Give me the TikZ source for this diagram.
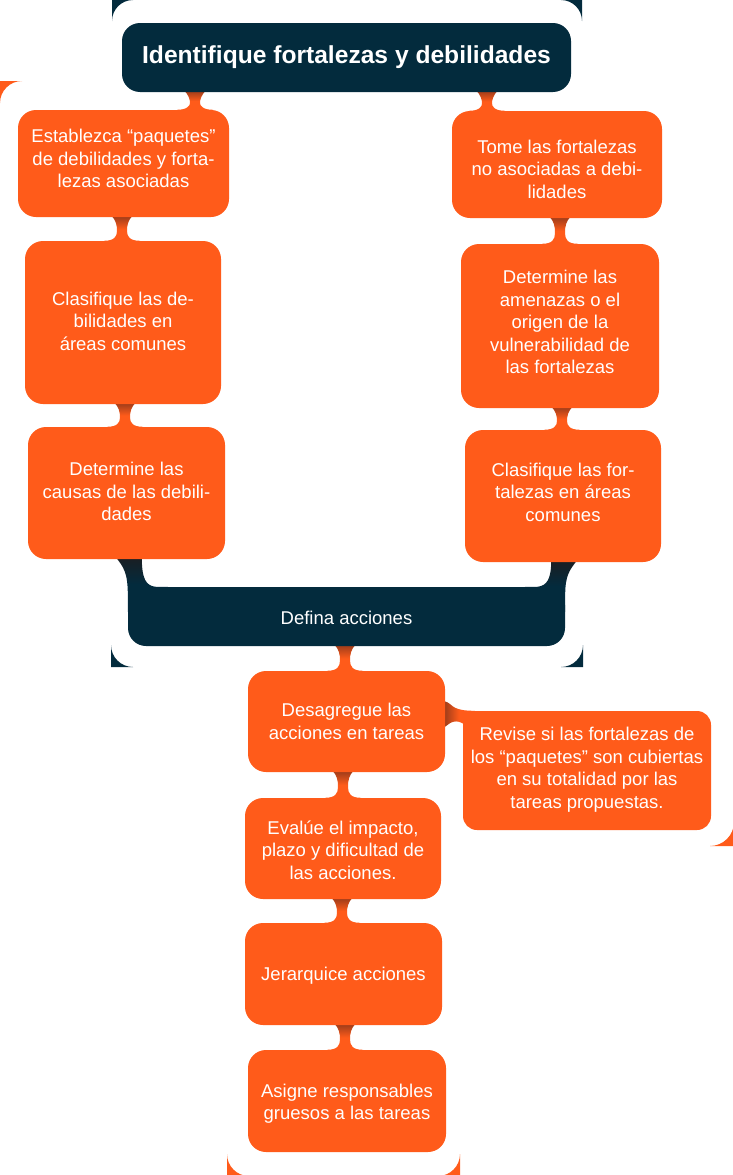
\documentclass[tikz,border=0pt]{standalone}
\usepackage{fontspec}
\setmainfont{Liberation Sans}
\usetikzlibrary{calc}
\definecolor{orng}{RGB}{255,91,26}
\definecolor{navy}{RGB}{3,43,61}
\definecolor{brwn}{RGB}{150,58,26}
\definecolor{dnavy}{RGB}{26,30,34}
\pgfdeclarelayer{bg}
\pgfsetlayers{bg,main}
\newcommand{\vneck}[5]{% from, to, x, top colour, body colour
  \path[top color=#4, bottom color=#5, middle color=#5] let \p1=(#1.south), \p2=(#2.north) in
   ({#3pt-11pt},{\y1+2pt}) .. controls ({#3pt-6pt},{\y1-3pt}) and ({#3pt-5pt},{\y1-8pt}) .. ({#3pt-5pt},{(\y1+\y2)/2-2pt})
   .. controls ({#3pt-5pt},{\y2+4pt}) and ({#3pt-8pt},{\y2}) .. ({#3pt-18pt},{\y2}) -- ({#3pt-18pt},{\y2-2pt})
   -- ({#3pt+18pt},{\y2-2pt}) -- ({#3pt+18pt},{\y2}) .. controls ({#3pt+8pt},{\y2}) and ({#3pt+5pt},{\y2+4pt}) .. ({#3pt+5pt},{(\y1+\y2)/2-2pt})
   .. controls ({#3pt+5pt},{\y1-8pt}) and ({#3pt+6pt},{\y1-3pt}) .. ({#3pt+11pt},{\y1+2pt}) -- cycle;}
\newcommand{\cpiece}[6]{% colour, x, y, sx, sy, r
  \fill[#1] (#2,#3) -- ({#2+#4*#6},#3) .. controls ({#2+#4*0.448*#6},#3) and (#2,{#3+#5*0.448*#6}) .. (#2,{#3+#5*#6}) -- cycle;}
\tikzset{
  obox/.style={fill=orng, rounded corners=18pt, inner sep=0pt},
  nbox/.style={fill=navy, rounded corners=18pt, inner sep=0pt},
  txt/.style={text=white, align=center, inner sep=0pt, font=\fontsize{18.5}{22.5}\selectfont}
}
\begin{document}
\begin{tikzpicture}[x=1pt,y=-1pt]
\useasboundingbox (0,0) rectangle (733,1175);
% frame corner fragments
\cpiece{navy}{112}{0}{1}{1}{21}
\cpiece{navy}{582}{0}{-1}{1}{21}
\cpiece{navy}{111}{667}{1}{-1}{22}
\cpiece{navy}{583}{667}{-1}{-1}{22}
\cpiece{orng}{0}{81}{1}{1}{22}
\cpiece{orng}{734}{846}{-1}{-1}{24}
\cpiece{orng}{227}{1176}{1}{-1}{22}
\cpiece{orng}{460}{1176}{-1}{-1}{22}
% boxes
\node[nbox, minimum width=449, minimum height=69] (title) at (346.5,57.5) {};
\node[obox, minimum width=211, minimum height=107] (b1) at (123.5,163.5) {};
\node[obox, minimum width=196, minimum height=163] (b2) at (123,322.5) {};
\node[obox, minimum width=197, minimum height=132] (b3) at (126.5,493) {};
\node[obox, minimum width=210, minimum height=107] (r1) at (557,164.5) {};
\node[obox, minimum width=198, minimum height=164] (r2) at (560,326) {};
\node[obox, minimum width=196, minimum height=132] (r3) at (563,496) {};
\node[nbox, minimum width=437, minimum height=59] (defina) at (346.5,616.5) {};
\node[obox, minimum width=197, minimum height=101] (d1) at (346.5,721.5) {};
\node[obox, minimum width=248, minimum height=119, rounded corners=14pt] (revise) at (587,770.5) {};
\node[obox, minimum width=196, minimum height=101] (d2) at (343,848.5) {};
\node[obox, minimum width=197, minimum height=102] (d3) at (343.5,974) {};
\node[obox, minimum width=198, minimum height=102] (d4) at (347,1101) {};
% texts
\node[txt, font=\bfseries\fontsize{24.6}{28}\selectfont] (titlet) at (title.center) {Identifique fortalezas y debilidades};
\node[txt] (b1t) at ([yshift=5pt]b1.center) {Establezca “paquetes”\\de debilidades y forta-\\lezas asociadas};
\node[txt] (b2t) at ([yshift=1.5pt]b2.center) {Clasifique las de-\\bilidades en\\áreas comunes};
\node[txt] (b3t) at ([yshift=1.5pt]b3.center) {Determine las\\causas de las debili-\\dades};
\node[txt] (r1t) at ([yshift=-4.5pt]r1.center) {Tome las fortalezas\\no asociadas a debi-\\lidades};
\node[txt] (r2t) at ([yshift=4pt]r2.center) {Determine las\\amenazas o el\\origen de la\\vulnerabilidad de\\las fortalezas};
\node[txt] (r3t) at ([yshift=4pt]r3.center) {Clasifique las for-\\talezas en áreas\\comunes};
\node[txt] (definat) at ([yshift=-1.5pt]defina.center) {Defina acciones};
\node[txt] (d1t) at (d1.center) {Desagregue las\\acciones en tareas};
\node[txt] (reviset) at ([yshift=1pt]revise.center) {Revise si las fortalezas de\\los “paquetes” son cubiertas\\en su totalidad por las\\tareas propuestas.};
\node[txt] (d2t) at ([yshift=-1.5pt]d2.center) {Evalúe el impacto,\\plazo y dificultad de\\las acciones.};
\node[txt] (d3t) at ([yshift=-2pt]d3.center) {Jerarquice acciones};
\node[txt] (d4t) at ([yshift=-2.5pt]d4.center) {Asigne responsables\\gruesos a las tareas};
% connectors
\begin{pgfonlayer}{bg}
\vneck{title}{b1}{195}{brwn}{orng}
\vneck{title}{r1}{487}{brwn}{orng}
\vneck{b1}{b2}{122}{brwn}{orng}
\vneck{b2}{b3}{125}{brwn}{orng}
\vneck{r1}{r2}{560}{brwn}{orng}
\vneck{r2}{r3}{562}{brwn}{orng}
\vneck{defina}{d1}{345}{brwn}{orng}
\vneck{d1}{d2}{343}{brwn}{orng}
\vneck{d2}{d3}{342}{brwn}{orng}
\vneck{d3}{d4}{345}{brwn}{orng}
\path[top color=dnavy, bottom color=navy, middle color=navy] let \p1=(b3.south), \p2=(defina.north west) in
 ({\x2-12pt},{\y1+2pt}) .. controls ({\x2-4pt},{\y1-8pt}) and ({\x2},{\y1-14pt}) .. ({\x2},{\y2-8pt})
 -- ({\x2},{\y2-25pt}) -- ({\x2+40pt},{\y2-25pt}) -- ({\x2+40pt},{\y2}) -- ({\x2+28pt},{\y2})
 .. controls ({\x2+18pt},{\y2+1pt}) and ({\x2+14pt},{\y2+8pt}) .. ({\x2+14pt},{\y1+2pt}) -- cycle;
\path[top color=dnavy, bottom color=navy, middle color=navy] let \p1=(r3.south), \p2=(defina.north east) in
 ({\x2+12pt},{\y1+2pt}) .. controls ({\x2+4pt},{\y1-8pt}) and ({\x2},{\y1-14pt}) .. ({\x2},{\y2-8pt})
 -- ({\x2},{\y2-25pt}) -- ({\x2-40pt},{\y2-25pt}) -- ({\x2-40pt},{\y2}) -- ({\x2-28pt},{\y2})
 .. controls ({\x2-18pt},{\y2+1pt}) and ({\x2-14pt},{\y2+8pt}) .. ({\x2-14pt},{\y1+2pt}) -- cycle;
\path[left color=brwn, right color=orng, middle color=orng] let \p1=(d1.east), \p2=(revise.north west) in
 ({\x1-2pt},{\y2+10pt}) .. controls ({\x1+4pt},{\y2+9pt}) and ({\x1+7pt},{\y2+4pt}) .. ({\x1+10pt},{\y2+3pt})
 .. controls ({\x2-4pt},{\y2+1.5pt}) and ({\x2},{\y2}) .. ({\x2+12pt},{\y2})
 -- ({\x2+12pt},{\y2-20pt}) -- ({\x2+2pt},{\y2-20pt}) -- ({\x2+2pt},{\y2-14pt})
 .. controls ({\x2-2pt},{\y2-11pt}) and ({\x1+12pt},{\y2-10pt}) .. ({\x1+8pt},{\y2-11pt})
 .. controls ({\x1+4pt},{\y2-12pt}) and ({\x1+2pt},{\y2-15pt}) .. ({\x1-2pt},{\y2-17pt}) -- cycle;
\end{pgfonlayer}
\end{tikzpicture}
\end{document}
